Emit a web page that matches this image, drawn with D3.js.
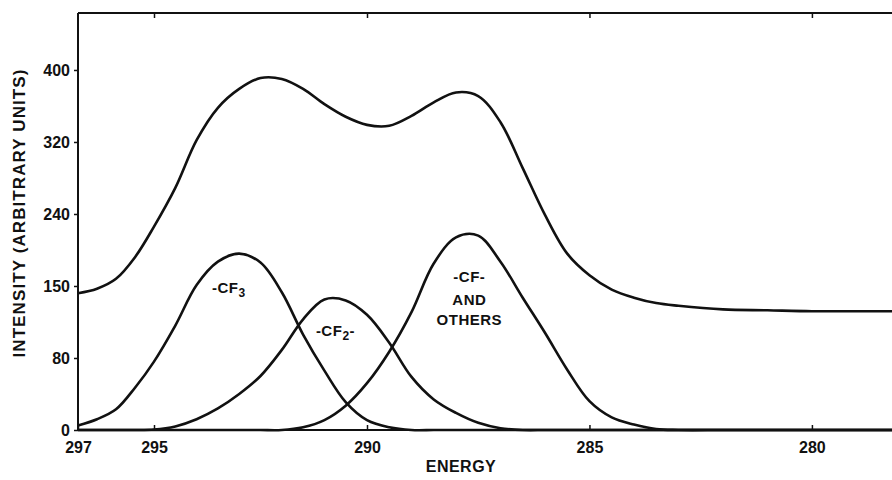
<!DOCTYPE html>
<html>
<head>
<meta charset="utf-8">
<script src="https://cdn.jsdelivr.net/npm/d3@7"></script>
<style>
  body { margin: 0; background: #fff; }
  svg { display: block; font-family: "Liberation Sans", Arial, sans-serif; font-weight: bold; }
  .curve { fill: none; stroke: #111; stroke-width: 2.6; }
  .frame { stroke: #111; stroke-width: 2; }
  .tick line { stroke: #111; stroke-width: 1.5; }
  .tick text { font-size: 16px; fill: #111; }
  .domain { display: none; }
  .label { font-size: 15px; fill: #111; letter-spacing: 0.5px; }
</style>
</head>
<body>
<div id="chart"></div>
<script>
// binding energy grid (eV)
var energy = [297, 296.5, 296, 295.5, 295, 294.5, 294, 293.5, 293, 292.5, 292, 291.5, 291, 290.5,
              290, 289.5, 289, 288.5, 288, 287.5, 287, 286.5, 286, 285.5, 285, 284.5, 284, 283.5,
              283, 282, 281, 280, 279, 278.2];

var total = [152, 157, 168, 192, 226, 269, 322, 358, 379, 391, 390, 379, 362, 348,
             339, 338, 349, 364, 375, 371, 342, 291, 239, 196, 172, 156, 147, 141,
             138, 134, 133, 132, 132, 132];

var cf3 = [5, 12, 23, 47, 76, 116, 161, 187, 196, 186, 153, 106, 66, 31,
           11, 3, 0, 0, 0, 0, 0, 0, 0, 0, 0, 0, 0, 0,
           0, 0, 0, 0, 0, 0];

var cf2 = [0, 0, 0, 0, 0.5, 4, 12, 24, 40, 60, 89, 123, 145, 144,
           128, 97, 59, 34, 19, 8, 2, 0, 0, 0, 0, 0, 0, 0,
           0, 0, 0, 0, 0, 0];

var cf = [0, 0, 0, 0, 0, 0, 0, 0, 0, 0, 0, 3, 11, 27,
          52, 87, 131, 185, 214, 216, 187, 147, 108, 67, 32, 14, 6, 1,
          0, 0, 0, 0, 0, 0];

var xTicks = [297, 295, 290, 285, 280];
var xTickLabels = ["297", "295", "290", "285", "280"];
var yTicks = [0, 80, 160, 240, 320, 400];
var yTickLabels = ["0", "80", "150", "240", "320", "400"];

var width = 892;
var height = 480;
var plotLeft = 78, plotTop = 13, plotBottom = 430;

var svg = d3.select("#chart")
            .append("svg")
            .attr("width", width)
            .attr("height", height);

// the printed energy axis is not quite even, so a piecewise scale
var x = d3.scaleLinear()
          .domain([297, 295, 290, 278.2])
          .range([plotLeft, 154, 367, width]);
var y = d3.scaleLinear()
          .domain([0, 463.3])
          .range([plotBottom, plotTop]);

var xAxis = d3.axisBottom(x)
              .tickValues(xTicks)
              .tickFormat(function(d, i) { return xTickLabels[i]; })
              .tickSizeInner(-5)
              .tickSizeOuter(0)
              .tickPadding(12);
svg.append("g")
   .attr("transform", "translate(0," + plotBottom + ")")
   .call(xAxis);

var topAxis = d3.axisBottom(x)
                .tickValues(xTicks.slice(1))
                .tickFormat("")
                .tickSizeInner(5)
                .tickSizeOuter(0);
svg.append("g")
   .attr("transform", "translate(0," + plotTop + ")")
   .call(topAxis);

var yAxis = d3.axisLeft(y)
              .tickValues(yTicks)
              .tickFormat(function(d, i) { return yTickLabels[i]; })
              .tickSizeInner(4)
              .tickSizeOuter(0)
              .tickPadding(4);
svg.append("g")
   .attr("transform", "translate(" + plotLeft + ",0)")
   .call(yAxis);

// frame: left, top, baseline
svg.append("line").attr("class", "frame")
   .attr("x1", plotLeft).attr("x2", plotLeft).attr("y1", plotTop).attr("y2", plotBottom);
svg.append("line").attr("class", "frame")
   .attr("x1", plotLeft).attr("x2", width).attr("y1", plotTop).attr("y2", plotTop);
svg.append("line").attr("class", "frame")
   .attr("x1", plotLeft).attr("x2", width).attr("y1", plotBottom).attr("y2", plotBottom);

var line = d3.line()
             .x(function(d) { return x(d[0]); })
             .y(function(d) { return Math.min(y(d[1]), plotBottom); })
             .curve(d3.curveCatmullRom.alpha(0.5));

[total, cf3, cf2, cf].forEach(function(series) {
  svg.append("path")
     .datum(d3.zip(energy, series))
     .attr("class", "curve")
     .attr("d", line);
});

// peak labels
var cf3Label = svg.append("text").attr("class", "label")
                  .attr("x", x(293.64)).attr("y", y(152));
cf3Label.append("tspan").text("-CF");
cf3Label.append("tspan").attr("dy", 4).style("font-size", "12px").text("3");

var cf2Label = svg.append("text").attr("class", "label")
                  .attr("x", x(291.2)).attr("y", y(104));
cf2Label.append("tspan").text("-CF");
cf2Label.append("tspan").attr("dy", 4).style("font-size", "12px").text("2");
cf2Label.append("tspan").attr("dy", -4).text("-");

var cfLines = ["-CF-", "AND", "OTHERS"];
var cfValues = [164, 139, 117];
svg.selectAll("text.cf")
   .data(cfLines)
   .enter()
   .append("text")
   .attr("class", "label cf")
   .attr("text-anchor", "middle")
   .attr("x", x(287.7))
   .attr("y", function(d, i) { return y(cfValues[i]); })
   .text(function(d) { return d; });

// axis titles
svg.append("text")
   .attr("class", "label")
   .attr("text-anchor", "middle")
   .style("font-size", "16px")
   .style("letter-spacing", "0.5px")
   .attr("x", 461).attr("y", 472)
   .text("ENERGY");

svg.append("text")
   .attr("class", "label")
   .attr("text-anchor", "middle")
   .style("font-size", "17px")
   .style("letter-spacing", "1.1px")
   .attr("transform", "translate(25,213) rotate(-90)")
   .text("INTENSITY (ARBITRARY UNITS)");
</script>
</body>
</html>
